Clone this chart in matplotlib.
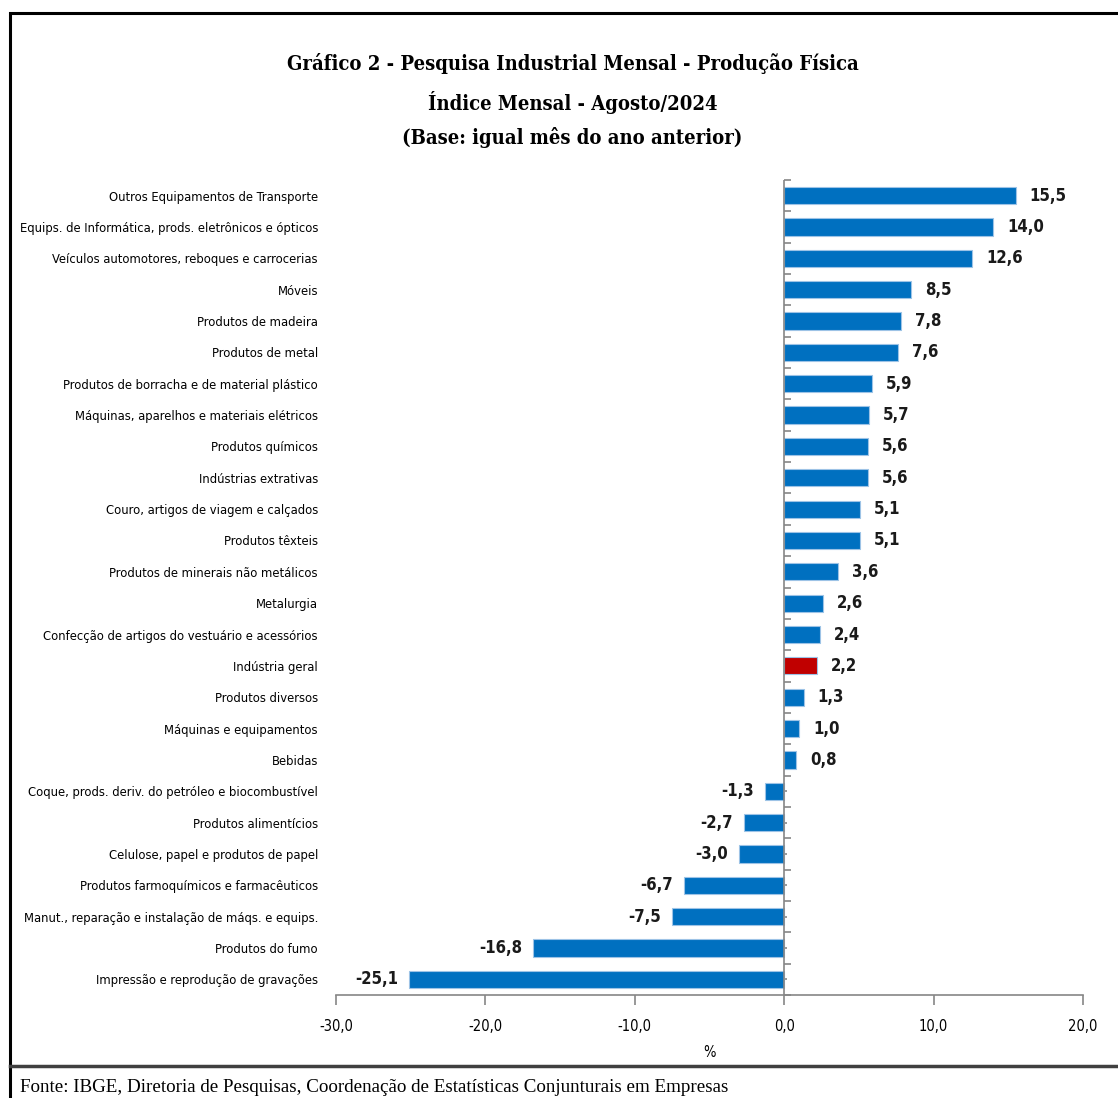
import matplotlib
matplotlib.use("Agg")
import matplotlib.pyplot as plt
from matplotlib.patches import Rectangle
import numpy as np

# data, top to bottom as in the chart
categories = [
    "Outros Equipamentos de Transporte",
    "Equips. de Informática, prods. eletrônicos e ópticos",
    "Veículos automotores, reboques e carrocerias",
    "Móveis",
    "Produtos de madeira",
    "Produtos de metal",
    "Produtos de borracha e de material plástico",
    "Máquinas, aparelhos e materiais elétricos",
    "Produtos químicos",
    "Indústrias extrativas",
    "Couro, artigos de viagem e calçados",
    "Produtos têxteis",
    "Produtos de minerais não metálicos",
    "Metalurgia",
    "Confecção de artigos do vestuário e acessórios",
    "Indústria geral",
    "Produtos diversos",
    "Máquinas e equipamentos",
    "Bebidas",
    "Coque, prods. deriv. do petróleo e biocombustível",
    "Produtos alimentícios",
    "Celulose, papel e produtos de papel",
    "Produtos farmoquímicos e farmacêuticos",
    "Manut., reparação e instalação de máqs. e equips.",
    "Produtos do fumo",
    "Impressão e reprodução de gravações",
]
values = [15.5, 14.0, 12.6, 8.5, 7.8, 7.6, 5.9, 5.7, 5.6, 5.6, 5.1, 5.1, 3.6,
          2.6, 2.4, 2.2, 1.3, 1.0, 0.8, -1.3, -2.7, -3.0, -6.7, -7.5, -16.8, -25.1]
highlight = "Indústria geral"
xticks = [-30, -20, -10, 0, 10, 20]

title_lines = ["Gráfico 2 - Pesquisa Industrial Mensal - Produção Física",
               "Índice Mensal - Agosto/2024",
               "(Base: igual mês do ano anterior)"]
source = "Fonte: IBGE, Diretoria de Pesquisas, Coordenação de Estatísticas Conjunturais em Empresas"

plt.rcParams['font.family'] = ['DejaVu Sans']
plt.rcParams['font.stretch'] = 'condensed'

BLUE = '#0070C0'
RED = '#C00000'
GRAY = '#868686'

fig = plt.figure(figsize=(11.18, 10.98), dpi=100)
W, H = 1118, 1098

def fx(px):
    return px / W

def fy(py):
    return 1 - py / H

# outer frame and footer line
fig.patches.append(Rectangle((fx(10), fy(1120)), fx(1130) - fx(10), fy(13) - fy(1120),
                             transform=fig.transFigure, fill=False, lw=2.2, ec='black'))
fig.add_artist(plt.Line2D([fx(10), 1], [fy(1066), fy(1066)], transform=fig.transFigure,
                          color='#404040', lw=2.5))

for line, yy in zip(title_lines, [64, 103, 137]):
    fig.text(0.512, fy(yy), line, ha='center', va='center', fontsize=14.5,
             fontweight='bold', family=['DejaVu Serif'], fontstretch='condensed')

fig.text(fx(20), fy(1088), source, ha='left', va='center', fontsize=13.7,
         family=['Liberation Serif', 'DejaVu Serif'], fontstretch='normal')

ax = fig.add_axes([fx(336), fy(995), fx(1083) - fx(336), fy(180) - fy(995)])
n = len(categories)
y = np.arange(n)
colors = [RED if c == highlight else BLUE for c in categories]
ax.barh(y, values, height=0.55, color=colors, edgecolor='#9DC3E6', linewidth=0.8, zorder=3)
ax.set_ylim(n - 0.5, -0.5)
ax.set_xlim(-30, 20)

ax.set_yticks(y)
ax.set_yticklabels(categories, fontsize=9.3)
ax.tick_params(axis='y', length=0, pad=13)
ax.set_xticks(xticks)
ax.set_xticklabels([f"{t:.1f}".replace('.', ',') for t in xticks], fontsize=10.5)
ax.tick_params(axis='x', length=7, color=GRAY, pad=10, width=1.2)
ax.set_xlabel('%', fontsize=10.5, labelpad=8)

for s in ['top', 'right', 'left']:
    ax.spines[s].set_visible(False)
ax.spines['bottom'].set_color(GRAY)
ax.spines['bottom'].set_linewidth(1.2)

# zero axis with category tick marks
ax.axvline(0, color=GRAY, lw=1.2, zorder=4)
zero = ax.secondary_yaxis(0.6)
zero.set_yticks(np.arange(-0.5, n, 1.0))
zero.set_yticks(y, minor=True)
zero.set_yticklabels([])
zero.tick_params(axis='y', which='major', length=5, color=GRAY, width=1.2)
zero.tick_params(axis='y', which='minor', length=2.5, color=GRAY, width=1.2)
for s in zero.spines.values():
    s.set_visible(False)

for yi, v in zip(y, values):
    lab = f"{v:.1f}".replace('.', ',')
    if v >= 0:
        ax.annotate(lab, (v, yi), xytext=(10, 0), textcoords='offset points',
                    ha='left', va='center', fontsize=12, fontweight='bold',
                    color='#1a1a1a')
    else:
        ax.annotate(lab, (v, yi), xytext=(-8, 0), textcoords='offset points',
                    ha='right', va='center', fontsize=12, fontweight='bold',
                    color='#1a1a1a')

fig.savefig('out.png', dpi=100)
